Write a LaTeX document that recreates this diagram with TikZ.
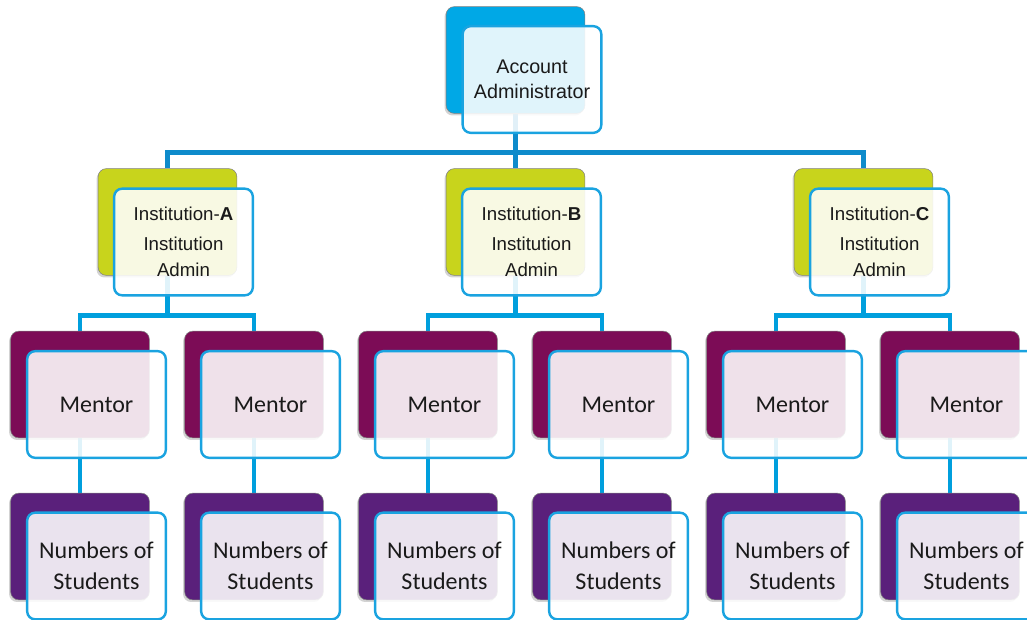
\documentclass[tikz,border=0pt]{standalone}
\usepackage{fontspec}
\setmainfont{Liberation Sans}
\newfontfamily\calibri{Carlito}
\usetikzlibrary{shadows, backgrounds}
\definecolor{cTop}{HTML}{00A8E6}
\definecolor{cInst}{HTML}{C8D41C}
\definecolor{cMentor}{HTML}{7C0C56}
\definecolor{cStud}{HTML}{5A207B}
\definecolor{cEdge}{HTML}{1AA3E0}
\definecolor{cLink}{HTML}{0E8BCB}
\definecolor{cSub}{HTML}{009FDD}
\definecolor{cText}{HTML}{1A1A1A}
\tikzset{
    x=0.75pt, y=-0.75pt,
    back/.style={rectangle, rounded corners=6pt, minimum width=104pt,
                 minimum height=80pt, draw=black!50, line width=0.4pt,
                 drop shadow={shadow xshift=-1.2pt, shadow yshift=-1.6pt,
                              opacity=0.35}},
    front/.style={rectangle, rounded corners=6pt, minimum width=104pt,
                  minimum height=80pt, draw=cEdge, line width=1.8pt,
                  fill=white, fill opacity=0.88, text opacity=1,
                  text=cText, align=center, inner sep=0pt},
    topfont/.style={font=\fontsize{14.8}{18.8}\selectfont},
    instfont/.style={font=\fontsize{14}{19.5}\selectfont},
    lowfont/.style={font=\calibri\fontsize{18}{23}\selectfont},
    link/.style={draw=cLink, line width=3.8pt},
    sublink/.style={draw=cSub, line width=3.2pt},
}

\begin{document}
\begin{tikzpicture}
    \useasboundingbox (0,0) rectangle (1027,619);
    \clip (0,0) rectangle (1027,619);

    % top of the tree
    \node[back, fill=cTop] (adminBk) at (515.5,60) {};
    \node[front, topfont] (admin) at (532,79.5) {Account\\Administrator};

    % one institution per column pair
    \foreach \inst [count=\k from 0] in {A,B,C} {
        \pgfmathsetmacro{\ix}{167.5+348*\k}
        \node[back, fill=cInst] (inst\inst Bk) at (\ix,222) {};
        \node[front, instfont] (inst\inst) at (\ix+16,242)
            {Institution-\textbf{\inst}\\[3pt]Institution\\Admin};
    }

    % mentors and their students
    \foreach \m in {0,...,5} {
        \pgfmathsetmacro{\mx}{80+174*\m}
        \node[back, fill=cMentor] (mentor\m Bk) at (\mx,384.5) {};
        \node[front, lowfont] (mentor\m) at (\mx+16.5,404.5) {Mentor};
        \node[back, fill=cStud] (stud\m Bk) at (\mx,546.5) {};
        \node[front, lowfont] (stud\m) at (\mx+16.5,566) {Numbers of\\Students};
    }

    % connectors behind the boxes
    \begin{scope}[on background layer]
        \draw[link] (adminBk.south) -- ++(0,39) coordinate (hub);
        \draw[link] (instABk.north) |- (hub) -| (instCBk.north);
        \draw[link] (hub) -- (instBBk.north);
        \foreach \inst/\a/\b in {A/0/1, B/2/3, C/4/5} {
            \draw[sublink] (inst\inst Bk.south) -- ++(0,40) coordinate (hub\inst);
            \draw[sublink] (mentor\a Bk.north) |- (hub\inst) -| (mentor\b Bk.north);
        }
        \foreach \m in {0,...,5}
            \draw[sublink] (mentor\m Bk.south) -- (stud\m Bk.north);
    \end{scope}
\end{tikzpicture}
\end{document}
